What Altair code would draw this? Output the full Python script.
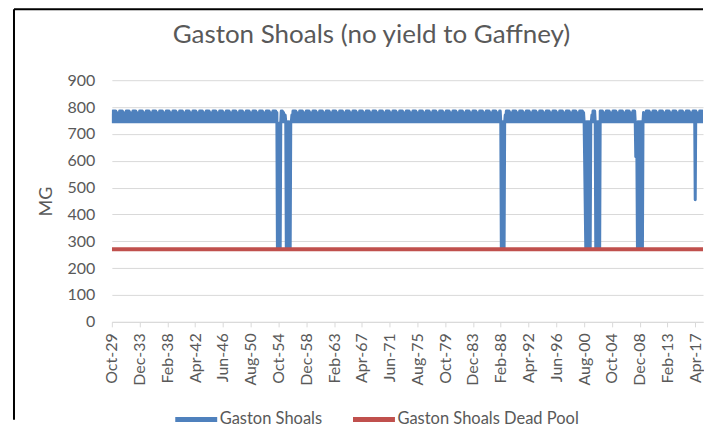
import altair as alt
import pandas as pd

TITLE = "Gaston Shoals (no yield to Gaffney)"
Y_TITLE = "MG"
SERIES = ["Gaston Shoals", "Gaston Shoals Dead Pool"]
COLORS = ["#4F81BD", "#C0504D"]
FONT = "Lato"
TEXT_COLOR = "#595959"
GRID_COLOR = "#D9D9D9"

# monthly series range; the visible axis stops a little before the series ends
FIRST_MONTH = "1929-10-01"
LAST_MONTH = "2019-05-01"
AXIS_END = "2018-06-01"

# typical storage through a year (Jan..Dec), MG, read from the solid blue band (745-785)
typical_year = [785, 745, 785, 745, 785, 745, 780, 745, 745, 770, 745, 785]

# drought months (solid columns down to dead pool)
drought_months = [
    "1954-08", "1954-09", "1954-10", "1954-11", "1954-12", "1955-01",
    "1955-12", "1956-01", "1956-02", "1956-03", "1956-04", "1956-05", "1956-06", "1956-07",
    "1988-03", "1988-04", "1988-05", "1988-06", "1988-07", "1988-08",
    "2000-09", "2000-10", "2000-11", "2000-12", "2001-01", "2001-02", "2001-03",
    "2001-04", "2001-05", "2001-06", "2001-07",
    "2002-05", "2002-06", "2002-07", "2002-08", "2002-09", "2002-10", "2002-11", "2002-12",
    "2008-05", "2008-06", "2008-07", "2008-08", "2008-09", "2008-10", "2008-11",
    "2008-12", "2009-01", "2009-02", "2009-03", "2009-04", "2009-05",
    "2017-04",
]
drought_values = [
    270, 740, 270, 740, 270, 270,
    270, 745, 270, 745, 270, 745, 270, 270,
    270, 745, 270, 745, 270, 270,
    590, 430, 270, 745, 270, 745, 270,
    745, 270, 745, 270,
    270, 745, 270, 745, 270, 745, 270, 270,
    615, 615, 615, 270, 745, 270, 745,
    270, 745, 270, 745, 270, 270,
    455,
]

dead_pool_level = 270

# x-axis tick months (every 50 months) and y ticks
tick_months = [
    "1929-10-01", "1933-12-01", "1938-02-01", "1942-04-01", "1946-06-01", "1950-08-01",
    "1954-10-01", "1958-12-01", "1963-02-01", "1967-04-01", "1971-06-01", "1975-08-01",
    "1979-10-01", "1983-12-01", "1988-02-01", "1992-04-01", "1996-06-01", "2000-08-01",
    "2004-10-01", "2008-12-01", "2013-02-01", "2017-04-01",
]
y_ticks = [0, 100, 200, 300, 400, 500, 600, 700, 800, 900]


def to_ms(s):
    return int(pd.Timestamp(s, tz="UTC").value // 10**6)


# ---- build tables ----
dates = pd.date_range(FIRST_MONTH, LAST_MONTH, freq="MS")
override = dict(zip(drought_months, drought_values))
values = []
for d in dates:
    key = d.strftime("%Y-%m")
    values.append(override.get(key, typical_year[d.month - 1]))
df_main = pd.DataFrame({"date": [to_ms(d) for d in dates.strftime("%Y-%m-%d")],
                        "MG": values, "series": SERIES[0]})
df_dead = pd.DataFrame({"date": [to_ms(FIRST_MONTH), to_ms(LAST_MONTH)],
                        "MG": [dead_pool_level, dead_pool_level],
                        "series": SERIES[1]})

x_enc = alt.X(
    "date:T", title=None,
    scale=alt.Scale(type="utc", domain=[to_ms(FIRST_MONTH), to_ms(AXIS_END)], nice=False),
    axis=alt.Axis(
        values=[to_ms(t) for t in tick_months],
        labelExpr="utcFormat(datum.value, '%b-%y')",
        labelAngle=-90, labelAlign="right",
        labelBaseline="middle", labelPadding=6, labelOverlap=False, labelFlush=False,
        grid=False, domainColor=GRID_COLOR, tickColor=GRID_COLOR, tickSize=5,
        labelFont=FONT, labelFontSize=16, labelColor=TEXT_COLOR,
    ),
)
y_enc = alt.Y(
    "MG:Q", title=Y_TITLE,
    scale=alt.Scale(domain=[0, 900], nice=False),
    axis=alt.Axis(
        values=y_ticks, domain=False, tickSize=0, labelPadding=17, grid=True,
        gridColor=GRID_COLOR, labelFont=FONT, labelFontSize=16, labelColor=TEXT_COLOR,
        titleFont=FONT, titleFontSize=18, titleFontWeight="normal", titleColor=TEXT_COLOR,
        titleX=-56, titleY=121,
    ),
)
color_enc = alt.Color(
    "series:N",
    scale=alt.Scale(domain=SERIES, range=COLORS),
    legend=alt.Legend(
        title=None, orient="none", direction="horizontal", legendX=61, legendY=316,
        symbolType="stroke", symbolStrokeWidth=5, symbolSize=1764, labelOffset=0,
        columnPadding=20, labelFont=FONT, labelFontSize=16.5, labelColor=TEXT_COLOR,
        labelLimit=400, padding=0,
    ),
)

PLOT_W = 592
one_row = alt.Data(values=[{"k": 1}])
frame_left = alt.Chart(one_row).mark_rule(color="black", strokeWidth=2).encode(
    x=alt.value(-98), y=alt.value(-71), y2=alt.value(340))
frame_top = alt.Chart(one_row).mark_rule(color="black", strokeWidth=2).encode(
    x=alt.value(-98), x2=alt.value(PLOT_W), y=alt.value(-71))

main_line = alt.Chart(df_main).mark_line(
    strokeWidth=3, clip=True, strokeJoin="round", strokeCap="round"
).encode(x=x_enc, y=y_enc, color=color_enc)
dead_line = alt.Chart(df_dead).mark_line(strokeWidth=4, clip=True).encode(
    x=x_enc, y=y_enc, color=color_enc)

chart = alt.layer(frame_left, frame_top, main_line, dead_line).properties(
    width=PLOT_W, height=242,
    padding={"left": 5, "top": 0, "right": 0, "bottom": 0},
    title=alt.TitleParams(
        TITLE, font=FONT, fontSize=26, fontWeight="normal", color=TEXT_COLOR,
        anchor="middle", frame="group", dx=-36, offset=-61, baseline="alphabetic",
    ),
).configure_view(stroke=None)

chart.save("out.html", embed_options={"renderer": "svg", "actions": False})
